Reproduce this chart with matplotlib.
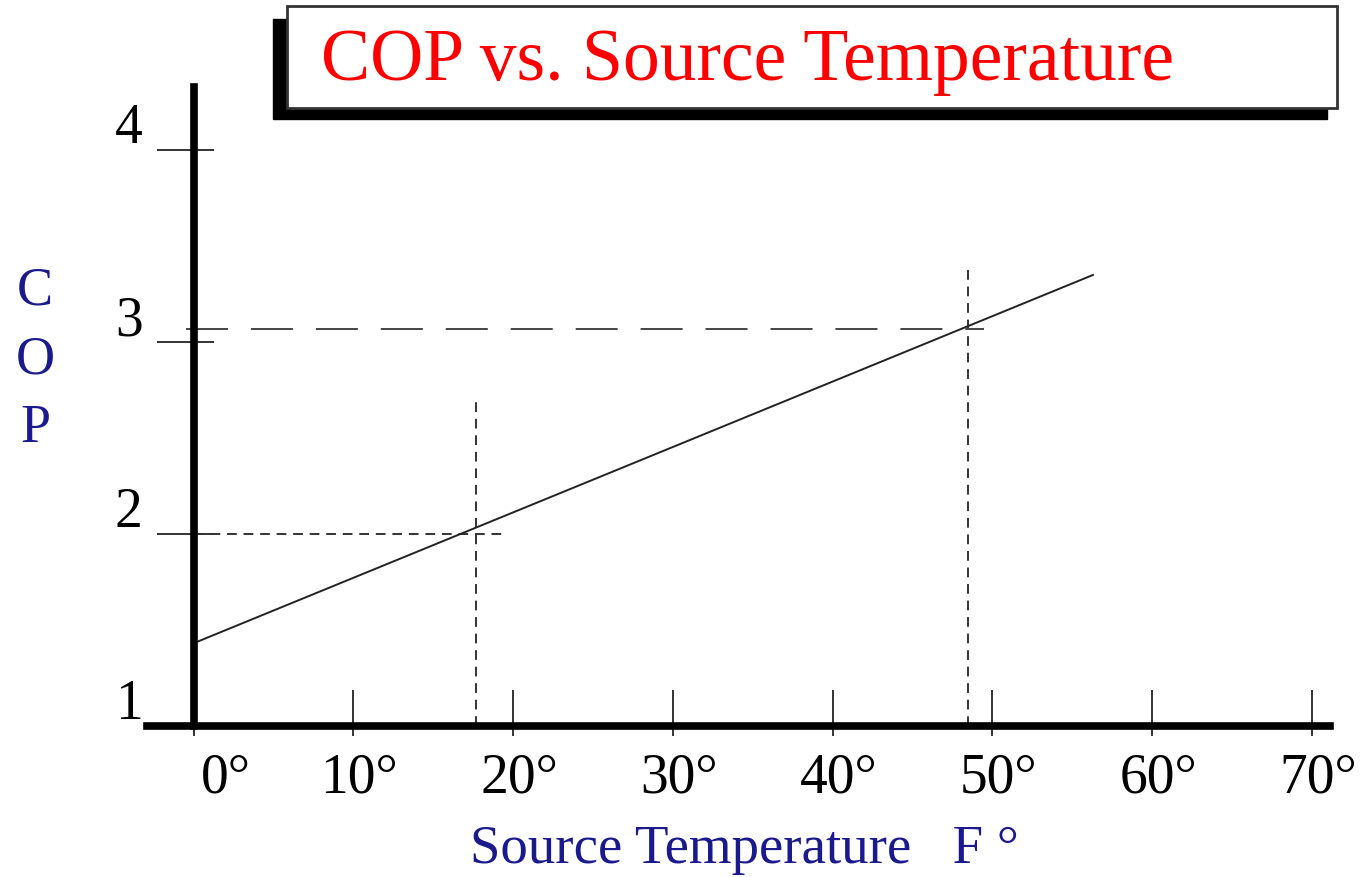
import matplotlib.pyplot as plt
from matplotlib.patches import Rectangle
from matplotlib.transforms import ScaledTranslation

# COP line
line_temp = [0, 56.3]
line_cop = [1.43, 3.35]

# guide lines
g1_temp, g1_cop, g1_top, g1_end = 17.7, 2.0, 2.72, 19.6
g2_temp, g2_cop, g2_top, g2_start, g2_end = 48.5, 3.07, 3.40, -0.5, 49.5

xticks = [0, 10, 20, 30, 40, 50, 60, 70]
xtick_labels = ['0°', '10°', '20°', '30°', '40°', '50°', '60°', '70°']
yticks = [1, 2, 3, 4]
ytick_labels = ['1', '2', '3', '4']

title = 'COP vs. Source Temperature'
xlabel = 'Source Temperature   F °'
ylabel = 'C\nO\nP'

serif = ['Liberation Serif', 'DejaVu Serif']
navy = '#1a1a8c'
plt.rcParams['font.family'] = serif

W, H = 1360, 877
fig = plt.figure(figsize=(W / 100, H / 100), dpi=100)
ax = fig.add_axes([147 / W, 1 - 725.7 / H, (1330 - 147) / W, (725.7 - 87) / H])

## LINES
ax.plot(line_temp, line_cop, color='#222222', lw=1.4, zorder=3)
ax.plot([g1_temp, g1_temp], [1, g1_top], color='#333333', lw=1.4,
        ls=(0, (5, 3.5)), zorder=2)
ax.plot([0, g1_end], [g1_cop, g1_cop], color='#333333', lw=1.4,
        ls=(0, (5, 3.5)), zorder=2)
ax.plot([g2_temp, g2_temp], [1, g2_top], color='#333333', lw=1.4,
        ls=(0, (5, 3.5)), zorder=2)
ax.plot([g2_start, g2_end], [g2_cop, g2_cop], color='#444444', lw=1.4,
        ls=(0, (21.6, 11.8)), zorder=2)

## AXES
ax.set_xlim(-2.92, 71.14)
ax.set_ylim(1, 4.33)
ax.spines['top'].set_visible(False)
ax.spines['right'].set_visible(False)
ax.spines['left'].set_position(('data', 0))
for s in ['left', 'bottom']:
    ax.spines[s].set_linewidth(5.5)
    ax.spines[s].set_capstyle('projecting')
    ax.spines[s].set_zorder(4)

ax.xaxis.remove_overlapping_locs = False
ax.yaxis.remove_overlapping_locs = False
ax.set_xticks(xticks, labels=xtick_labels)
ax.set_xticks(xticks, minor=True)
ax.set_yticks(yticks, labels=ytick_labels)
ax.set_yticks(yticks, minor=True)

ax.tick_params(axis='x', which='major', direction='in', length=25.9, width=1.4,
               color='#333333', pad=19.4, labelsize=40)
ax.tick_params(axis='x', which='minor', direction='out', length=7.2, width=1.4,
               color='#333333')
ax.tick_params(axis='y', which='major', direction='out', length=26.6, width=1.4,
               color='#333333', pad=10, labelsize=40)
ax.tick_params(axis='y', which='minor', direction='in', length=14.4, width=1.4,
               color='#333333')

for i, lbl in enumerate(ax.get_xticklabels()):
    dx = 32 if i == 0 else 6
    lbl.set_transform(lbl.get_transform() + ScaledTranslation(dx / 100, 0, fig.dpi_scale_trans))
for lbl in ax.get_yticklabels():
    lbl.set_va('baseline')
    lbl.set_transform(lbl.get_transform() + ScaledTranslation(0, 7 / 100, fig.dpi_scale_trans))

## TITLE BOX
shadow = Rectangle((273 / W, 1 - 119 / H), (1327 - 273) / W, 100 / H,
                   transform=fig.transFigure, facecolor='black', edgecolor='black',
                   zorder=10)
box = Rectangle((287 / W, 1 - 108 / H), 1050 / W, 102 / H,
                transform=fig.transFigure, facecolor='white', edgecolor='#333333',
                lw=2, zorder=11)
fig.add_artist(shadow)
fig.add_artist(box)
fig.text(321 / W, 1 - 80 / H, title, color='red', fontsize=53,
         va='baseline', ha='left', zorder=12)

## LABELS
fig.text(470 / W, 1 - 863 / H, xlabel, color=navy, fontsize=39.5,
         va='baseline', ha='left')
fig.text(35 / W, 1 - 266 / H, ylabel, color=navy, fontsize=39,
         va='top', ha='center', linespacing=1.48)

fig.savefig('out.png', dpi=100, facecolor='white')
